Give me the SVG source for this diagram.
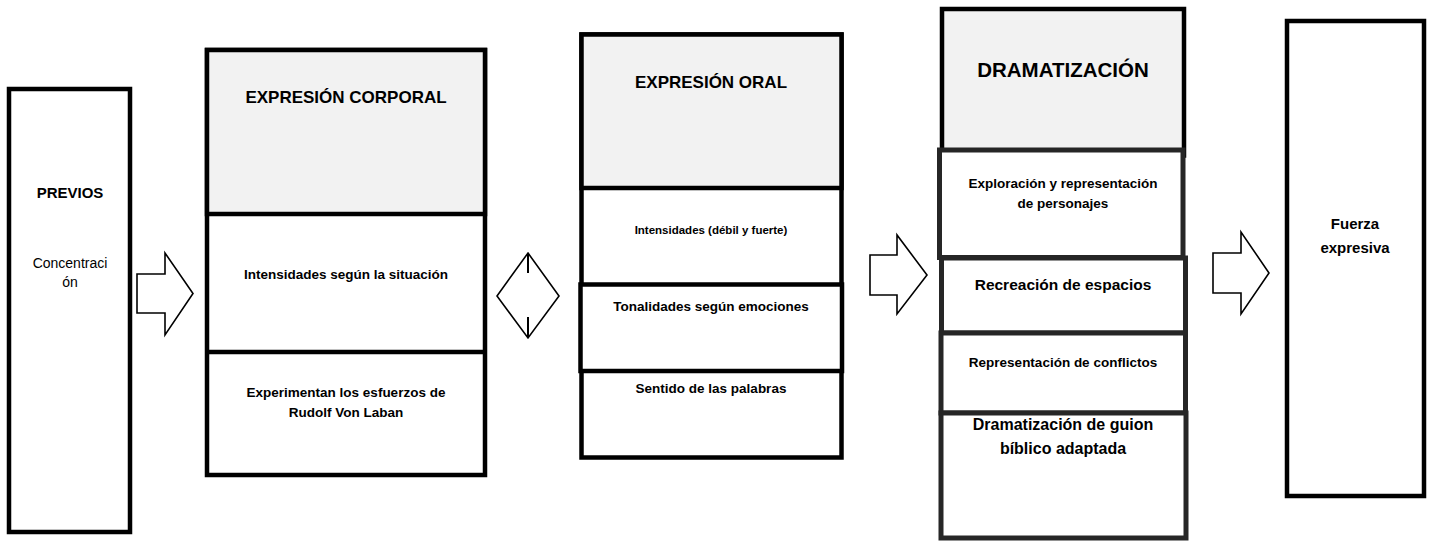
<svg xmlns="http://www.w3.org/2000/svg" width="1429" height="542" viewBox="0 0 1429 542">
<style>
  text { font-family: "Liberation Sans", Arial, sans-serif; font-weight: bold; fill: #000; text-anchor: middle; }
  text.normal { font-weight: normal; }
  .box { fill: #fff; stroke: #000; stroke-width: 4.5; }
  .hdr { fill: #f2f2f2; stroke: #000; stroke-width: 4.5; }
  .sub { fill: #fff; stroke: #262626; stroke-width: 5; }
  .arrow { fill: #fff; stroke: #000; stroke-width: 1.6; stroke-linejoin: miter; }
  .h1 { font-size: 17px; }
  .t { font-size: 13.5px; }
</style>
<rect width="1429" height="542" fill="#fff"/>

<g id="previos">
  <rect class="box" x="9" y="89" width="121" height="443" stroke-width="4"/>
  <text x="70" y="198" font-size="15">PREVIOS</text>
  <text class="normal" x="70" y="268" font-size="14">Concentraci</text>
  <text class="normal" x="70" y="287" font-size="14">ón</text>
</g>

<g id="expresion-corporal">
  <rect class="box" x="207" y="50" width="278" height="425"/>
  <rect class="hdr" x="207" y="50" width="278" height="164"/>
  <line x1="207" y1="352" x2="485" y2="352" stroke="#000" stroke-width="4.5"/>
  <text class="h1" x="346" y="103">EXPRESIÓN CORPORAL</text>
  <text class="t" x="346" y="279">Intensidades según la situación</text>
  <text class="t" x="346" y="397">Experimentan los esfuerzos de</text>
  <text class="t" x="346" y="417">Rudolf Von Laban</text>
</g>

<g id="expresion-oral">
  <rect class="box" x="581.5" y="34.5" width="260" height="423" stroke-width="4.7"/>
  <rect class="hdr" x="581.5" y="34.5" width="260" height="153.5" stroke-width="4.7"/>
  <rect class="box" x="580.5" y="284.5" width="261.5" height="86.5" stroke-width="4.7"/>
  <text class="h1" x="711" y="88">EXPRESIÓN ORAL</text>
  <text x="711" y="234" font-size="11.5">Intensidades (débil y fuerte)</text>
  <text class="t" x="711" y="311">Tonalidades según emociones</text>
  <text class="t" x="711" y="393">Sentido de las palabras</text>
</g>

<g id="dramatizacion">
  <rect class="hdr" x="942" y="9" width="242" height="146.5"/>
  <rect class="sub" x="939.5" y="150" width="243.5" height="107.5"/>
  <rect class="sub" x="941.5" y="258" width="244" height="75"/>
  <rect class="sub" x="941" y="333" width="244.5" height="80"/>
  <rect class="sub" x="941" y="413" width="245" height="125"/>
  <text x="1063" y="77" font-size="20.5">DRAMATIZACIÓN</text>
  <text class="t" x="1063" y="188">Exploración y representación</text>
  <text class="t" x="1063" y="208">de personajes</text>
  <text x="1063" y="290" font-size="15.5">Recreación de espacios</text>
  <text class="t" x="1063" y="367">Representación de conflictos</text>
  <text x="1063" y="430" font-size="16">Dramatización de guion</text>
  <text x="1063" y="454" font-size="16">bíblico adaptada</text>
</g>

<g id="fuerza-expresiva">
  <rect class="box" x="1287" y="21" width="137" height="475" stroke-width="4"/>
  <text x="1355" y="229" font-size="15">Fuerza</text>
  <text x="1355" y="253" font-size="15">expresiva</text>
</g>

<g id="connectors">
  <polygon class="arrow" points="137,274 165,274 165,253 193,293.5 165,335 165,313 137,313"/>
  <g id="double-arrow">
    <polygon class="arrow" points="528,253 559,296 528,338 497,296"/>
    <line x1="528" y1="253" x2="528" y2="273" stroke="#000" stroke-width="2"/>
    <line x1="528" y1="317" x2="528" y2="338" stroke="#000" stroke-width="2"/>
  </g>
  <polygon class="arrow" points="870,255 897,255 897,235 927,275 897,314 897,295 870,295"/>
  <polygon class="arrow" points="1213,253 1241,253 1241,232 1269,273 1241,314 1241,293 1213,293"/>
</g>
</svg>
